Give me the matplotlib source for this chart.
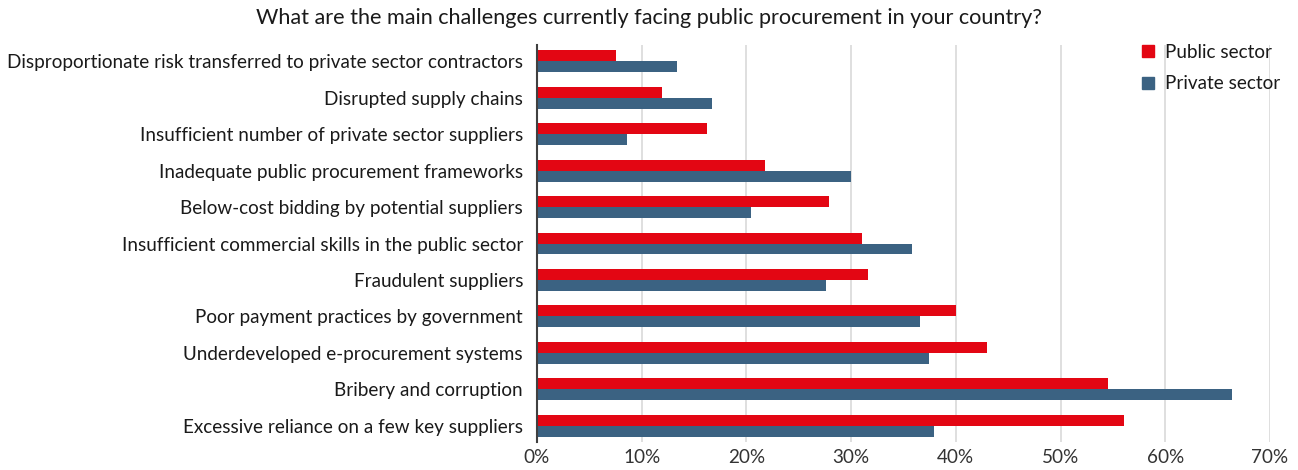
import numpy as np
import matplotlib.pyplot as plt
from matplotlib.lines import Line2D
from matplotlib.ticker import PercentFormatter

plt.rcParams['font.family'] = ['Lato', 'DejaVu Sans']

CATEGORIES = [
    "Disproportionate risk transferred to private sector contractors",
    "Disrupted supply chains",
    "Insufficient number of private sector suppliers",
    "Inadequate public procurement frameworks",
    "Below-cost bidding by potential suppliers",
    "Insufficient commercial skills in the public sector",
    "Fraudulent suppliers",
    "Poor payment practices by government",
    "Underdeveloped e-procurement systems",
    "Bribery and corruption",
    "Excessive reliance on a few key suppliers",
]
PUBLIC = [7.5, 11.9, 16.2, 21.8, 27.9, 31.0, 31.6, 40.0, 43.0, 54.5, 56.1]
PRIVATE = [13.4, 16.7, 8.6, 30.0, 20.4, 35.8, 27.6, 36.6, 37.4, 66.4, 37.9]
XTICKS = [0, 10, 20, 30, 40, 50, 60, 70]

RED = "#E30613"
BLUE = "#3B6282"
FS = 13.6

fig = plt.figure(figsize=(12.98, 4.70), dpi=100)
ax = fig.add_axes([537 / 1298, 28 / 470, (1270 - 537) / 1298, (425 - 28) / 470])

y = np.arange(len(CATEGORIES))
h = 0.3
ax.barh(y - h / 2, PUBLIC, height=h, color=RED, label="Public sector", zorder=3)
ax.barh(y + h / 2, PRIVATE, height=h, color=BLUE, label="Private sector", zorder=3)

ax.set_yticks(y)
ax.set_yticklabels(CATEGORIES, fontsize=FS, color="#1a1a1a")
ax.set_ylim(len(CATEGORIES) - 0.55, -0.45)
ax.set_xlim(0, 70)
ax.set_xticks(XTICKS)
ax.xaxis.set_major_formatter(PercentFormatter(decimals=0))
ax.tick_params(axis='x', labelsize=FS, colors="#333333", length=0, pad=5)
ax.tick_params(axis='y', length=0, pad=10)
ax.grid(axis='x', color="#d9d9d9", linewidth=1.2, zorder=0)

for side in ["top", "right", "bottom"]:
    ax.spines[side].set_visible(False)
ax.spines["left"].set_color("#404040")
ax.spines["left"].set_linewidth(1.5)
ax.spines["left"].set_zorder(4)

handles = [
    Line2D([], [], marker="s", linestyle="none", color=RED, markersize=9),
    Line2D([], [], marker="s", linestyle="none", color=BLUE, markersize=9),
]
fig.legend(handles, ["Public sector", "Private sector"], loc="upper left",
           bbox_to_anchor=(1122 / 1298, 1 - 27 / 470), frameon=False,
           fontsize=FS, handletextpad=0.4, labelspacing=0.75,
           handlelength=1.0, labelcolor="#1a1a1a")

fig.text(0.5, 1 - 18 / 470,
         "What are the main challenges currently facing public procurement in your country?",
         ha="center", va="center", fontsize=15.6, color="#1a1a1a")

fig.savefig("out.png", dpi=100)
